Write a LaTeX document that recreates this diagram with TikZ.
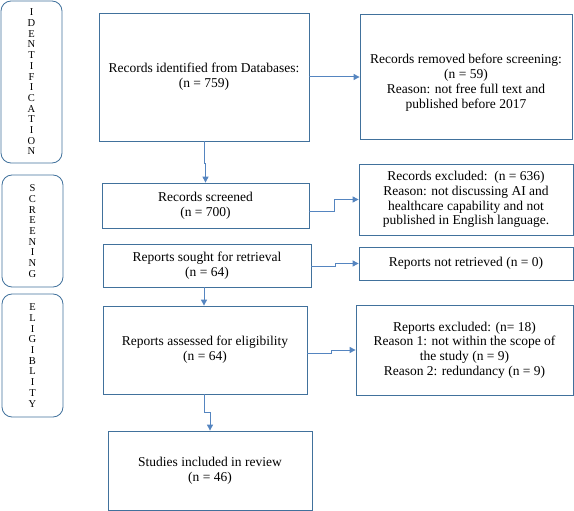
\documentclass[tikz,border=0pt]{standalone}
\usepackage{fontspec}
\setmainfont{Liberation Serif}
\usetikzlibrary{arrows.meta,positioning}
\definecolor{boxc}{HTML}{41719C}
\definecolor{arrc}{HTML}{5585C0}
\tikzset{
  box/.style={draw=boxc, line width=0.8pt, align=center, inner sep=0pt,
    font=\fontsize{13.5}{14.8}\selectfont},
  side/.style={draw=boxc, line width=0.8pt, rounded corners=10pt, align=center, inner sep=0pt,
    font=\fontsize{10.5}{10.7}\selectfont},
  arr/.style={draw=arrc, line width=1pt, -{Triangle[length=6pt,width=6pt]}}
}
\begin{document}
\begin{tikzpicture}[x=1pt,y=-1pt]
\useasboundingbox (0,0) rectangle (574,511);
% side boxes
\node[side, minimum width=61, minimum height=162] (sid) at (31.5,82) {I\\D\\E\\N\\T\\I\\F\\I\\C\\A\\T\\I\\O\\N};
\node[side, minimum width=61, minimum height=112] (ssc) at (32.5,231) {S\\C\\R\\E\\E\\N\\I\\N\\G};
\node[side, minimum width=61, minimum height=123] (sel) at (32.5,355.5) {E\\L\\I\\G\\I\\B\\L\\I\\T\\Y};
% main boxes
\node[box, minimum width=210, minimum height=128] (b1) at (204,77) {Records identified from Databases:\\(n = 759)};
\node[box, minimum width=207, minimum height=45] (b2) at (205.5,205.5) {Records screened\\(n = 700)};
\node[box, minimum width=208, minimum height=43] (b3) at (207,265.5) {Reports sought for retrieval\\(n = 64)};
\node[box, minimum width=204, minimum height=88] (b4) at (205,350) {Reports assessed for eligibility\\(n = 64)};
\node[box, minimum width=204, minimum height=79] (b5) at (210,470.5) {Studies included in review\\(n = 46)};
% right boxes
\node[box, minimum width=212, minimum height=125] (r1) at (466,76.5) {\rule{0pt}{22pt}Records removed before screening:\\(n = 59)\\Reason: not free\ full text and\\published before 2017};
\node[box, minimum width=214, minimum height=71] (r2) at (466,199.5) {Records excluded:\ \ (n = 636)\\Reason: not discussing AI and\\healthcare capability and not\\published in English language.};
\node[box, minimum width=214, minimum height=33] (r3) at (466,263.5) {Reports not retrieved (n = 0)};
\node[box, minimum width=217, minimum height=90] (r4) at (464.5,350) {Reports excluded: (n= 18)\\Reason 1: not within the scope of\\the study (n = 9)\\Reason 2: redundancy (n = 9)};
% connectors
\draw[arr] (b1.east) -- (b1.east -| r1.west);
\draw[arr] (b1.south) -- ++(0,22) -| (b2.north);
\draw[arr] ([yshift=-5.5pt]b2.east) -- ++(25,0) |- (r2.west);
\draw[arr] ([yshift=-1pt]b3.east) -- ++(24,0) |- (r3.west);
\draw[arr] ([xshift=-3pt]b3.south) -- ([xshift=-1pt]b4.north);
\draw[arr] ([yshift=-3pt]b4.east) -- ++(24,0) |- (r4.west);
\draw[arr] ([xshift=-1pt]b4.south) -- ++(0,18) -| (b5.north);
\end{tikzpicture}
\end{document}
